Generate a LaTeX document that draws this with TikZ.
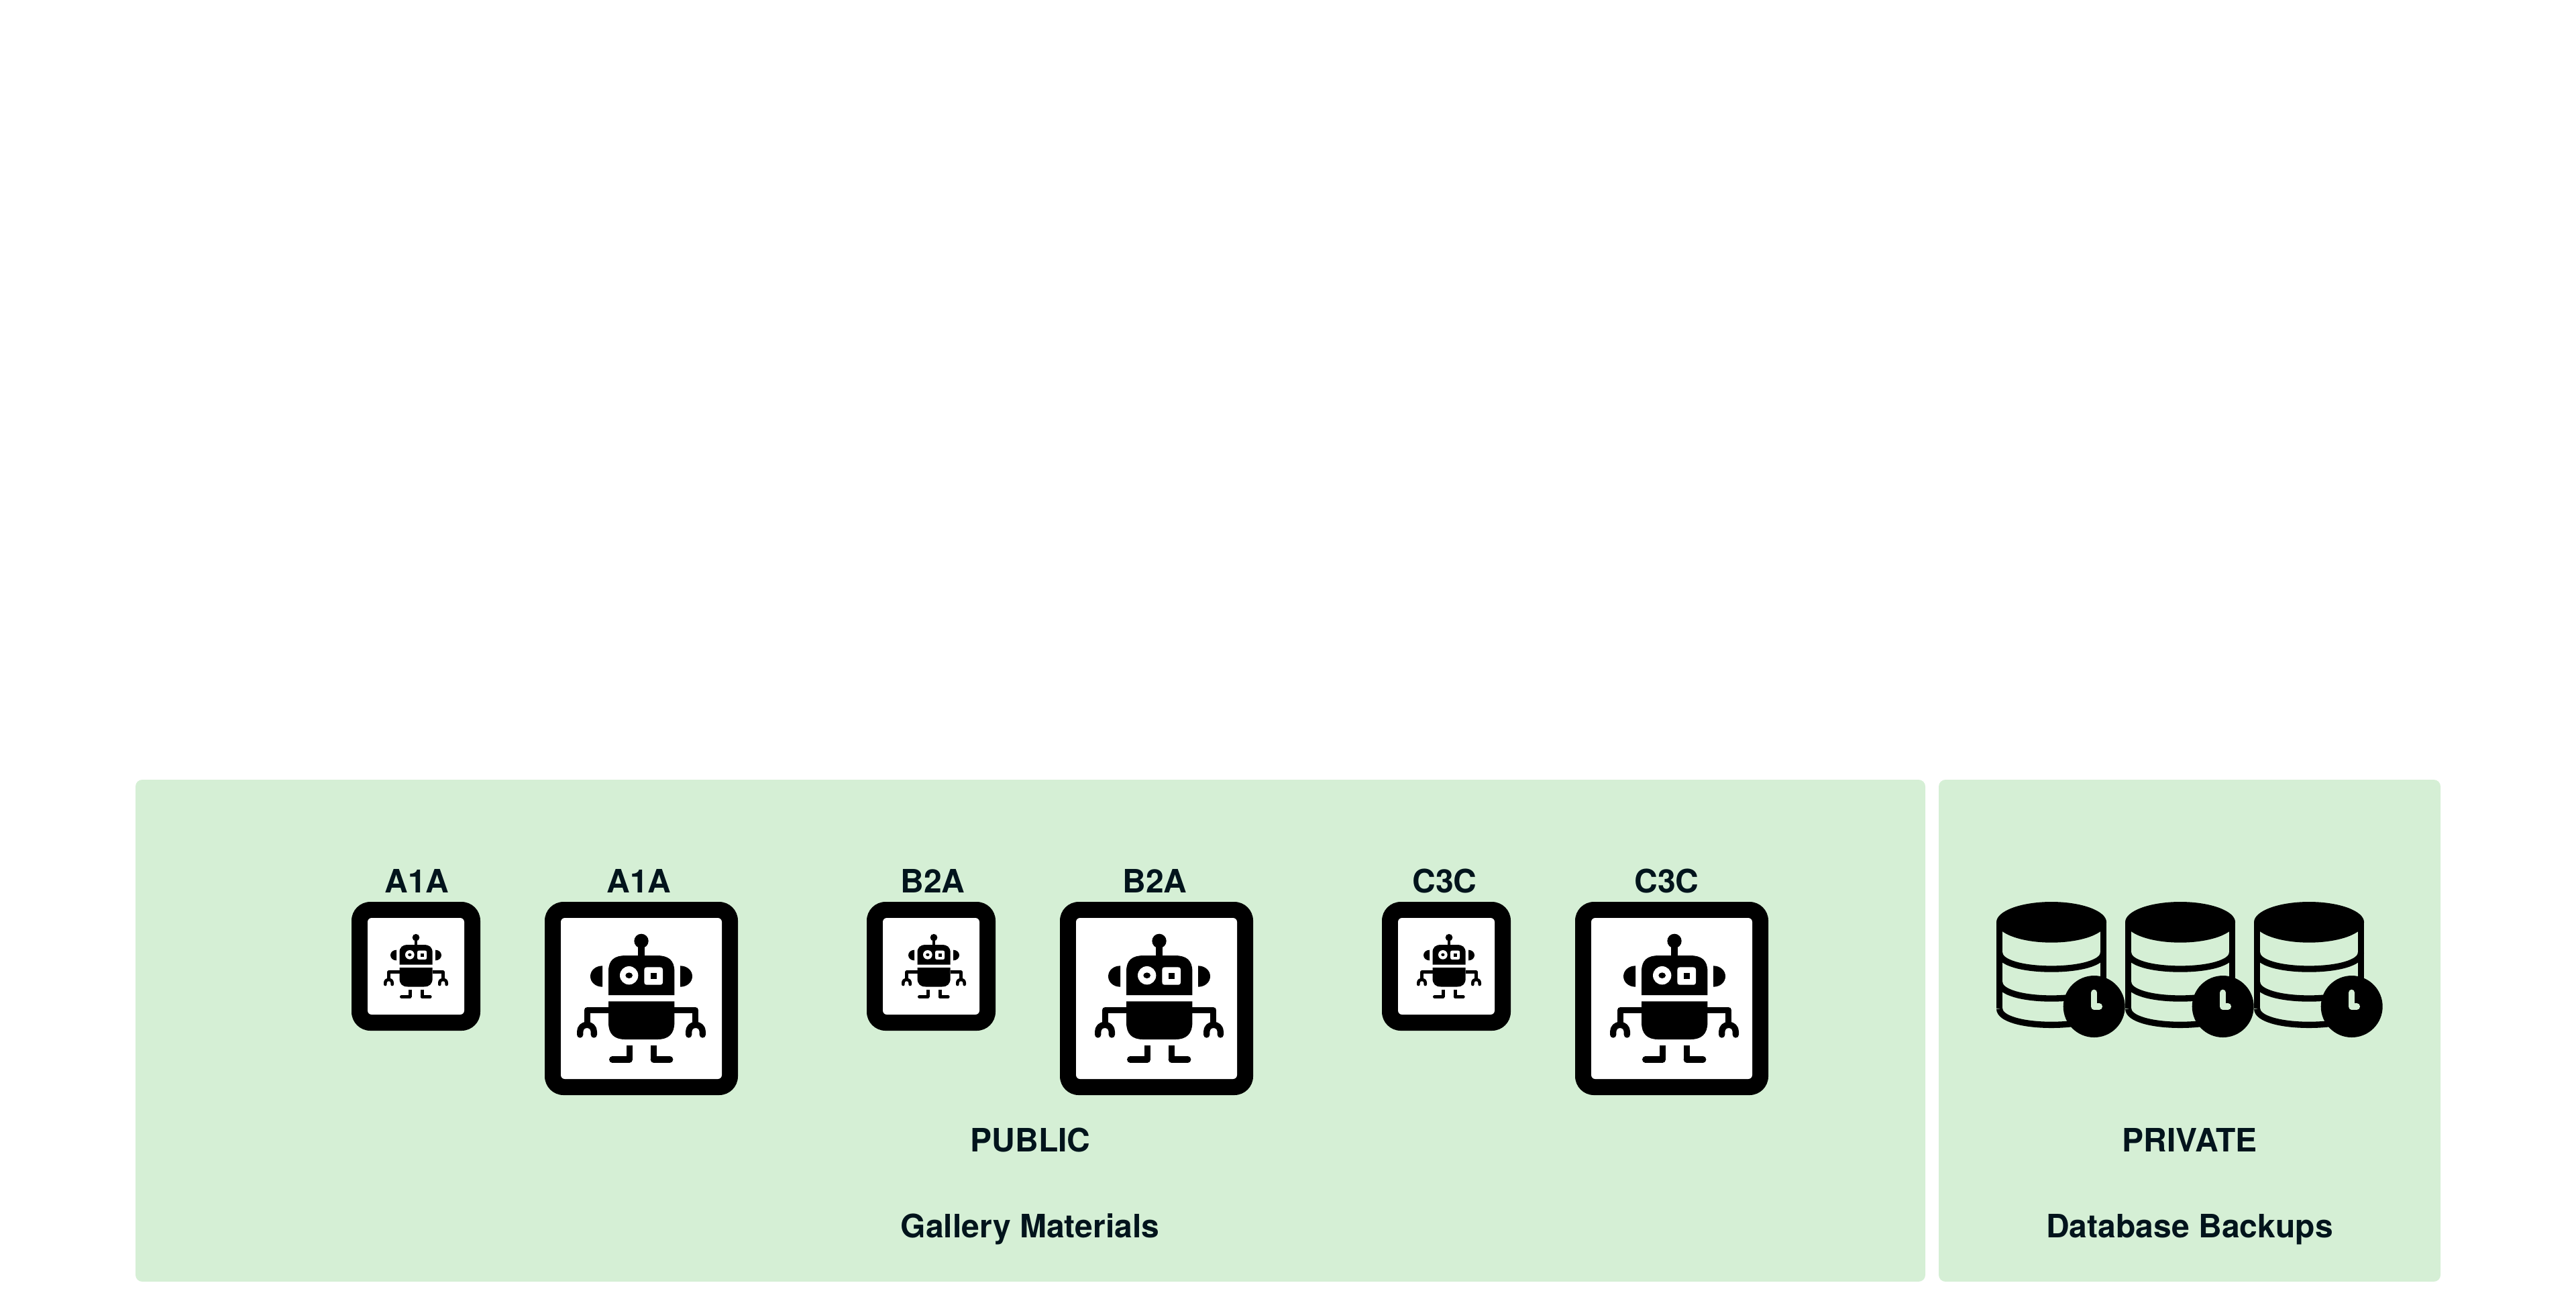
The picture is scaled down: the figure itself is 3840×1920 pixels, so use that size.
\documentclass[tikz,border=0pt]{standalone}
\usepackage{fontspec}
\setmainfont{TeX Gyre Heros}
\definecolor{panelgreen}{HTML}{D5EFD5}
\definecolor{inkdark}{HTML}{02141C}
\tikzset{
  panel/.style={fill=panelgreen, rounded corners=0.1cm},
  lbl/.style={anchor=base, inner sep=0pt, text=inkdark, font=\fontsize{13.66pt}{16pt}\selectfont\bfseries},
}
% robot: centre x, centre y, scale
\newcommand{\drawrobot}[3]{%
  \begin{scope}[shift={(#1,#2)},scale=#3/3]
    % antenna
    \fill[black] (0,-257) circle[radius=32];
    \fill[black] (-14,-240) rectangle (14,-185);
    % head
    \fill[black] (-147,-15) -- (-147,-122) .. controls (-147,-172) and (-120,-192) .. (-70,-192)
       -- (70,-192) .. controls (120,-192) and (148,-172) .. (148,-122) -- (148,-15) -- cycle;
    % eyes
    \fill[white] (-55,-103) circle[radius=41];
    \fill[black] (-55,-103) ellipse[x radius=16,y radius=13];
    \fill[white] (13,-126) .. controls (13,-136) and (17,-140) .. (27,-140) -- (82,-140)
       .. controls (92,-140) and (96,-136) .. (96,-126) -- (96,-75)
       .. controls (96,-65) and (92,-61) .. (82,-61) -- (27,-61)
       .. controls (17,-61) and (13,-65) .. (13,-75) -- cycle;
    \fill[black] (41,-114) rectangle (69,-87);
    % ears
    \fill[black] (-174,-146) .. controls (-205,-146) and (-228,-125) .. (-228,-99)
       .. controls (-228,-73) and (-205,-52) .. (-174,-52) -- cycle;
    \fill[black] (174,-146) .. controls (205,-146) and (228,-125) .. (228,-99)
       .. controls (228,-73) and (205,-52) .. (174,-52) -- cycle;
    % body
    \fill[black] (-147,13) -- (148,13) -- (148,108) .. controls (148,158) and (122,183) .. (72,183)
       -- (-72,183) .. controls (-122,183) and (-147,158) .. (-147,108) -- cycle;
    \begin{scope}[line width=#3*0.9333mm, line join=round]
      % arms
      \draw[black] (-147,52) -- (-242,52) -- (-242,112);
      \draw[black] (147,52) -- (242,52) -- (242,112);
      % hands
      \draw[black, line cap=round] (-274,162) -- (-274,149) .. controls (-274,130) and (-260,118) .. (-243,118)
        .. controls (-226,118) and (-212,130) .. (-212,149) -- (-212,162);
      \draw[black, line cap=round] (212,162) -- (212,149) .. controls (212,130) and (226,118) .. (243,118)
        .. controls (260,118) and (274,130) .. (274,149) -- (274,162);
      % legs
      \draw[black] (-53,210) -- (-53,273);
      \draw[black, line cap=round] (-53,273) -- (-130,273);
      \draw[black] (55,210) -- (55,273);
      \draw[black, line cap=round] (55,273) -- (128,273);
    \end{scope}
  \end{scope}%
}
% box left edge, robot offset in x
\newcommand{\smallbot}[2]{%
  \fill[black, rounded corners=0.28cm] (#1,1344) rectangle ++(192,192);
  \fill[white, rounded corners=0.06cm] (#1+24,1368) rectangle ++(144,144);
  \drawrobot{#1+96+#2}{1440}{0.5}%
}
\newcommand{\largebot}[2]{%
  \fill[black, rounded corners=0.28cm] (#1,1344) rectangle ++(288,288);
  \fill[white, rounded corners=0.06cm] (#1+24,1368) rectangle ++(240,240);
  \drawrobot{#1+144+#2}{1488}{1}%
}
% database with clock; left edge of cylinder at x
\newcommand{\database}[1]{%
  \begin{scope}[shift={(#1,1320)},scale=1/3,line width=0.9333mm]
    \draw[black] (14,163) -- (14,0+550);
    \draw[black] (478,163) -- (478,550);
    \draw[black] (14,300) .. controls (14,345) and (120,372) .. (246,372) .. controls (372,372) and (478,345) .. (478,300);
    \draw[black] (14,432) .. controls (14,477) and (120,504) .. (246,504) .. controls (372,504) and (478,477) .. (478,432);
    \draw[black] (14,550) .. controls (14,595) and (120,622) .. (246,622) .. controls (372,622) and (478,595) .. (478,550);
    \fill[black] (246,163) ellipse[x radius=246,y radius=91];
    \fill[black] (437,540) circle[radius=138];
    \draw[panelgreen, line cap=round, line join=round] (437,478) -- (437,540) -- (460,540);
  \end{scope}%
}
\begin{document}
\begin{tikzpicture}[x=0.01cm,y=-0.01cm]
  \useasboundingbox (0,0) rectangle (3840,1920);
  \fill[panel] (202,1162) rectangle (2870,1910);
  \fill[panel] (2890,1162) rectangle (3638,1910);

  \smallbot{524}{0}  \largebot{812}{0}
  \smallbot{1292}{4} \largebot{1580}{4}
  \smallbot{2060}{4} \largebot{2348}{4}

  \node[lbl] (la1) at (621.5,1330) {A1A};
  \node[lbl] (la2) at (952.5,1330) {A1A};
  \node[lbl] (lb1) at (1390.5,1330) {B2A};
  \node[lbl] (lb2) at (1721.5,1330) {B2A};
  \node[lbl] (lc1) at (2153.5,1330) {C3C};
  \node[lbl] (lc2) at (2484.5,1330) {C3C};

  \database{2976}
  \database{3168}
  \database{3360}

  \node[lbl] (pub) at (1536,1716.5) {PUBLIC};
  \node[lbl] (priv) at (3264,1716.5) {PRIVATE};
  \node[lbl] (gal) at (1535.5,1844.5) {Gallery Materials};
  \node[lbl] (dbb) at (3264,1844.5) {Database Backups};
\end{tikzpicture}
\end{document}
